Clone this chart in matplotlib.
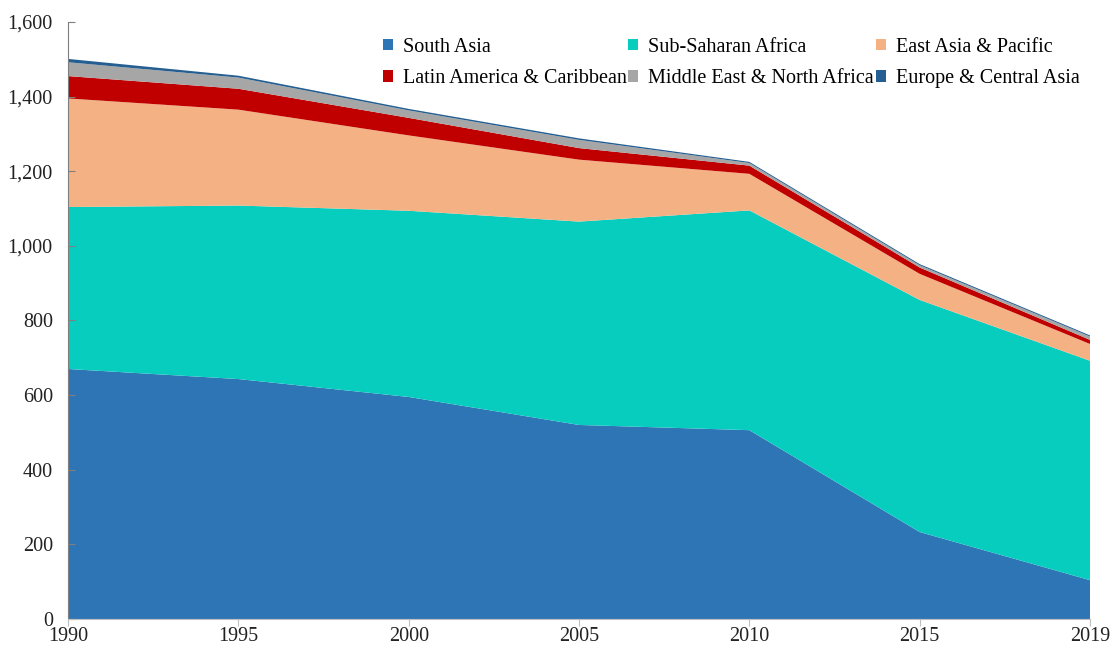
import matplotlib.pyplot as plt
from matplotlib.patches import Patch
from matplotlib.ticker import FuncFormatter
import numpy as np

# data (millions of people)
years = ['1990', '1995', '2000', '2005', '2010', '2015', '2019']
south_asia = [670, 643, 595, 520, 506, 233, 104]
ssa = [434, 465, 499, 545, 589, 622, 588]
east_asia = [291, 257, 202, 166, 98, 70, 45]
latam = [60, 56, 47, 31, 22, 17, 11]
mena = [37, 30, 20, 22, 7, 6, 9]
europe = [9, 5, 4, 4, 3, 3, 3]

names = ['South Asia', 'Sub-Saharan Africa', 'East Asia & Pacific',
         'Latin America & Caribbean', 'Middle East & North Africa',
         'Europe & Central Asia']
colors = ['#2E75B6', '#07CDBF', '#F4B183', '#C00000', '#A6A6A6', '#255E91']

plt.rcParams['font.family'] = ['Liberation Serif', 'DejaVu Serif']

fig = plt.figure(figsize=(11.12, 6.48), dpi=100)
ax = fig.add_axes([0.0612, 0.0448, 0.9190, 0.9213])

x = np.arange(len(years))
ax.stackplot(x, south_asia, ssa, east_asia, latam, mena, europe,
             colors=colors, linewidth=0)

ax.set_xlim(0, len(years) - 1)
ax.set_ylim(0, 1600)
ax.set_xticks(x)
ax.set_xticklabels(years)
ax.set_yticks(range(0, 1601, 200))
ax.yaxis.set_major_formatter(FuncFormatter(lambda v, p: f'{int(v):,}'))
ax.tick_params(axis='both', labelsize=14.5, colors='#222222', width=0.8)
ax.tick_params(axis='x', color='#BFBFBF', length=5, pad=1)
ax.tick_params(axis='y', color='#7F7F7F', direction='in', length=5, pad=11)

for s in ['top', 'right']:
    ax.spines[s].set_visible(False)
ax.spines['left'].set_color('#7F7F7F')
ax.spines['bottom'].set_color('#BFBFBF')

# legend rows go left to right, matplotlib fills columns first
handles = [Patch(facecolor=c, edgecolor='none') for c in colors]
order = [0, 3, 1, 4, 2, 5]
ax.legend([handles[i] for i in order], [names[i] for i in order],
          ncol=3, loc='upper left', bbox_to_anchor=(0.294, 0.997),
          frameon=False, fontsize=14.5, handlelength=0.5, handleheight=0.5,
          handletextpad=0.5, columnspacing=0.08, labelspacing=0.6,
          borderpad=0.2)

fig.savefig('out.png', dpi=100)
